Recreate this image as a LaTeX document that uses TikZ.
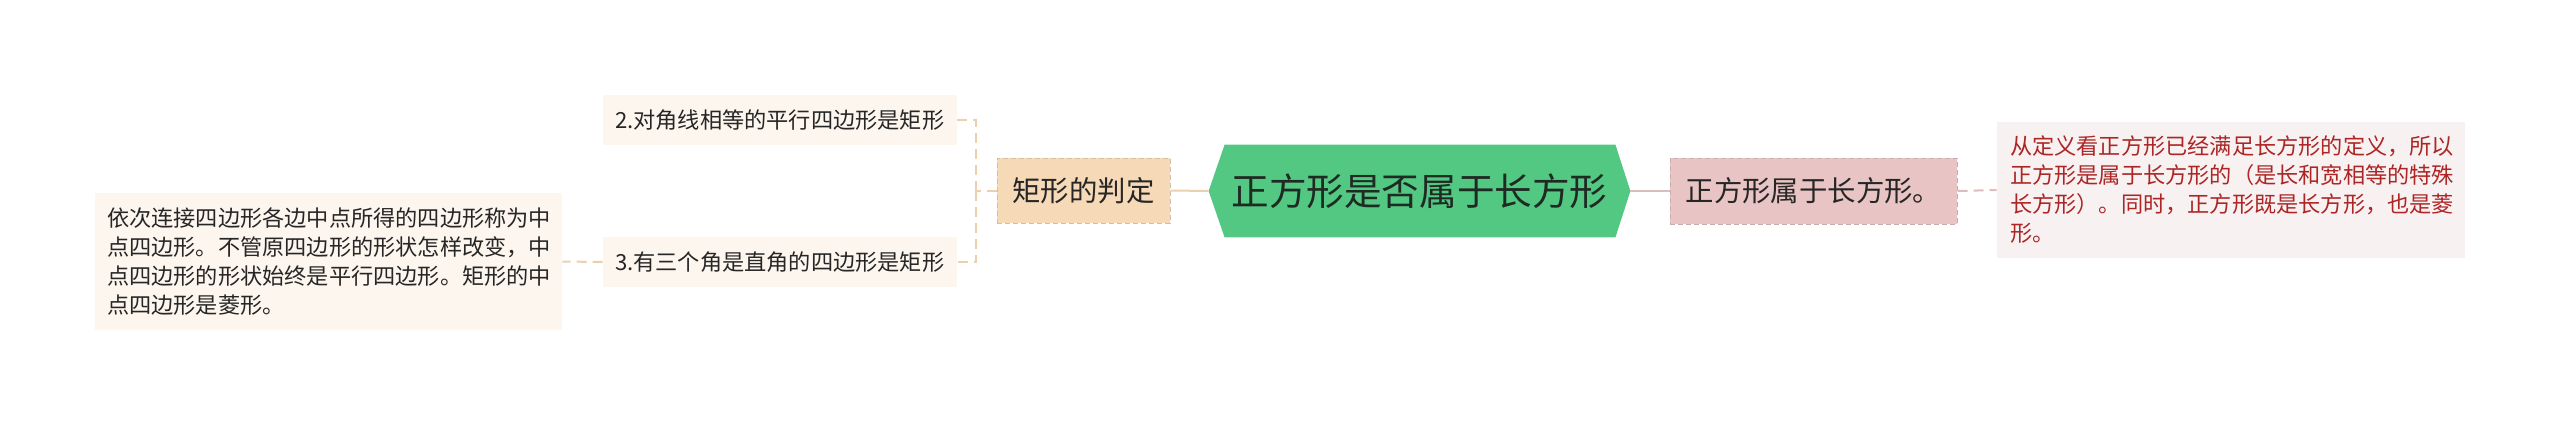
\documentclass[tikz,border=0pt]{standalone}
\usepackage{fontspec}
\usepackage{xcolor}
\newfontfamily\cjk{Noto Sans CJK SC}
\definecolor{rootgreen}{RGB}{82,200,130}
\definecolor{roottext}{RGB}{30,42,34}
\definecolor{peach}{RGB}{246,217,183}
\definecolor{peachline}{RGB}{236,207,175}
\definecolor{cream}{RGB}{253,246,238}
\definecolor{rose}{RGB}{232,196,196}
\definecolor{roseline}{RGB}{223,188,188}
\definecolor{blush}{RGB}{248,241,241}
\definecolor{darkred}{RGB}{172,38,38}
\definecolor{ink}{RGB}{38,38,38}

\begin{document}
\begin{tikzpicture}[x=0.5pt,y=-0.5pt,
  topic/.style={font=\cjk\fontsize{14.2pt}{17pt}\selectfont, text=ink, inner sep=0pt,
    dash pattern=on 2.5pt off 1.5pt, line width=0.5pt},
  leaf/.style={font=\cjk\fontsize{11.1pt}{14.5pt}\selectfont, inner sep=0pt, align=left},
  tanlink/.style={peachline, line width=1pt},
  roselink/.style={roseline, line width=1pt}]
  \useasboundingbox (0,0) rectangle (2560,425);

  \node (root) [font=\cjk\fontsize{18.8pt}{22pt}\selectfont, text=roottext,
    minimum width=210.5pt, minimum height=46pt, inner sep=0pt] at (1419.5,191) {};
  \fill[rootgreen] (root.west) -- ([xshift=8pt]root.north west) -- ([xshift=-7.5pt]root.north east)
    -- (root.east) -- ([xshift=-7.5pt]root.south east) -- ([xshift=8pt]root.south west) -- cycle;
  \node [font=\cjk\fontsize{18.8pt}{22pt}\selectfont, text=roottext] at (root.center) {正方形是否属于长方形};

  \node (judge) [topic, fill=peach, draw=peachline!90!black!95, minimum width=86.5pt, minimum height=32.5pt]
    at (1083.5,190.5) {矩形的判定};
  \node (belong) [topic, fill=rose, draw=roseline!90!black!95, minimum width=143.5pt, minimum height=33pt]
    at (1813.5,191) {正方形属于长方形。};

  \node (cond2) [leaf, text=ink, fill=cream, text width=165pt, minimum height=25pt, inner xsep=6pt]
    at (780,120) {2.对角线相等的平行四边形是矩形};
  \node (cond3) [leaf, text=ink, fill=cream, text width=165pt, minimum height=25pt, inner xsep=6pt]
    at (780,262) {3.有三个角是直角的四边形是矩形};
  \node (midpt) [leaf, text=ink, fill=cream, text width=221.5pt, minimum height=68.5pt, inner xsep=6pt]
    at (328.5,261.5) {依次连接四边形各边中点所得的四边形称为中\\点四边形。不管原四边形的形状怎样改变，中\\点四边形的形状始终是平行四边形。矩形的中\\点四边形是菱形。};
  \node (reason) [leaf, text=darkred, fill=blush, text width=221pt, minimum height=68pt, inner xsep=6.5pt]
    at (2231,190) {从定义看正方形已经满足长方形的定义，所以\\正方形是属于长方形的（是长和宽相等的特殊\\长方形）。同时，正方形既是长方形，也是菱\\形。};

  \coordinate (trunk) at (976,190.5);
  \draw[tanlink] (root.west) -- (judge.east);
  \draw[tanlink, dash pattern=on 5pt off 3pt] (judge.west) -- (trunk);
  \draw[tanlink, dash pattern=on 5pt off 3pt] (trunk) |- (cond2.east);
  \draw[tanlink, dash pattern=on 5pt off 3pt] (trunk) |- (cond3.east);
  \draw[tanlink, dash pattern=on 5pt off 3pt] (cond3.west) -- (midpt.east);
  \draw[roselink] (root.east) -- (belong.west);
  \draw[roselink, dash pattern=on 5pt off 3pt] (belong.east) -- (reason.west);
\end{tikzpicture}
\end{document}
